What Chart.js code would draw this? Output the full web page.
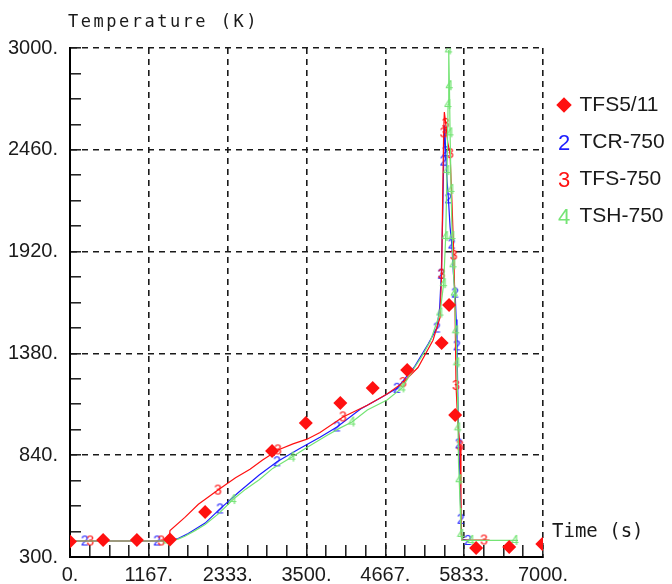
<!DOCTYPE html>
<html>
<head>
<meta charset="utf-8">
<script src="https://cdn.jsdelivr.net/npm/chart.js@4.4.1/dist/chart.umd.min.js"></script>
<style>
  html, body { margin: 0; padding: 0; background: #fff; }
</style>
</head>
<body>
<canvas id="temps" width="672" height="584"></canvas>
<script>
// TFS5/11 measurements (diamonds)
const expTime = [0, 490, 990, 1480, 2000, 2990, 3490, 4000, 4480, 4990, 5500, 5610, 5700, 6010, 6500, 6990];
const expTemp = [382, 390, 390, 393, 539, 862, 1011, 1117, 1197, 1292, 1435, 1637, 1053, 348, 353, 369];

// TCR-750
const tcrTime = [0, 220, 1290, 1480, 1600, 1750, 2000, 2220, 2500, 2800, 3064, 3400, 3700, 3951, 4300, 4600, 4840, 5100, 5300, 5431, 5470, 5495, 5515, 5530, 5545, 5560, 5580, 5600, 5625, 5650, 5675, 5700, 5715, 5727, 5740, 5755, 5770, 5785, 5800, 5890, 5930];
const tcrTemp = [385, 385, 385, 388, 398, 425, 480, 555, 645, 735, 805, 875, 935, 990, 1085, 1145, 1195, 1310, 1430, 1515, 1620, 1800, 2100, 2400, 2590, 2450, 2300, 2200, 2050, 1960, 1800, 1700, 1560, 1420, 1150, 900, 720, 500, 395, 388, 388];
const tcrMarks = [220, 1290, 2220, 3064, 3951, 4840, 5431, 5495, 5530, 5560, 5600, 5650, 5700, 5727, 5755, 5785, 5890];

// TFS-750
const tfsTime = [0, 300, 1350, 1460, 1480, 1700, 1900, 2190, 2450, 2664, 2850, 3078, 3300, 3508, 3700, 4040, 4400, 4692, 4928, 5150, 5372, 5476, 5500, 5515, 5530, 5540, 5560, 5590, 5624, 5653, 5680, 5698, 5713, 5740, 5772, 5786, 5792, 5800, 6127, 6210];
const tfsTemp = [385, 385, 385, 385, 440, 510, 580, 655, 720, 765, 815, 868, 900, 925, 960, 1043, 1105, 1165, 1225, 1305, 1450, 1570, 1800, 2200, 2550, 2660, 2600, 2500, 2440, 2180, 1900, 1620, 1210, 1000, 890, 640, 420, 390, 390, 390];
const tfsMarks = [300, 1350, 2190, 3078, 4040, 4928, 5500, 5530, 5560, 5624, 5680, 5713, 5772, 6127];

// TSH-750
const tshTime = [0, 1440, 1480, 1600, 1700, 1850, 2000, 2200, 2412, 2600, 2800, 3000, 3285, 3500, 3800, 4000, 4173, 4400, 4692, 4914, 5076, 5200, 5328, 5476, 5530, 5560, 5580, 5595, 5605, 5615, 5625, 5640, 5655, 5670, 5690, 5710, 5727, 5735, 5742, 5750, 5760, 5775, 5786, 5800, 5935, 6586, 6630];
const tshTemp = [385, 385, 385, 395, 410, 440, 472, 530, 605, 660, 710, 770, 830, 880, 945, 985, 1016, 1080, 1133, 1197, 1292, 1360, 1441, 1594, 1750, 2000, 2350, 2700, 2990, 2800, 2550, 2250, 2000, 1850, 1700, 1500, 1330, 1150, 985, 800, 710, 560, 420, 388, 388, 388, 388];
const tshMarks = [1440, 2412, 3285, 4173, 4914, 5476, 5530, 5560, 5580, 5595, 5605, 5615, 5625, 5640, 5655, 5670, 5690, 5710, 5727, 5742, 5760, 5786, 5935, 6586];

// axis ticks: labelled every 4th tick
const xLabels = ['0.', '1167.', '2333.', '3500.', '4667.', '5833.', '7000.'];
const yLabels = ['300.', '840.', '1380.', '1920.', '2460.', '3000.'];
const X_MAX = 7000, Y_MIN = 300, Y_MAX = 3000, SUB = 4;

const FONT = "'Liberation Sans', sans-serif";
const MONO = "'DejaVu Sans Mono', monospace";
const INK = '#1a1a1a';
const RED = '#ff1010', BLUE = '#1c1cff', GREEN = '#74e474';

// small canvas with a digit, used as point marker
function glyph(ch, color, size) {
  const c = document.createElement('canvas');
  c.width = Math.round(size * 0.62);
  c.height = Math.round(size * 0.9);
  const g = c.getContext('2d');
  g.font = size + 'px ' + FONT;
  g.fillStyle = color;
  g.textAlign = 'center';
  g.textBaseline = 'alphabetic';
  g.fillText(ch, c.width / 2, c.height / 2 + size * 0.355);
  return c;
}

function series(label, time, temp, marks, color, ch, order) {
  const mark = glyph(ch, color, 14);
  const isMark = c => c.dataIndex !== undefined && marks.includes(time[c.dataIndex]);
  return {
    label, order,
    data: time.map((t, i) => ({ x: t, y: temp[i] })),
    borderColor: color,
    backgroundColor: color,
    borderWidth: 1.2,
    tension: 0,
    pointStyle: c => isMark(c) ? mark : false,
    pointRadius: c => isMark(c) ? 3 : 0,
    pointBorderWidth: 0
  };
}

const legendIcons = ['rectRot', glyph('2', BLUE, 22), glyph('3', RED, 22), glyph('4', GREEN, 22)];

const datasets = [
  {
    label: 'TFS5/11', order: 0,
    data: expTime.map((t, i) => ({ x: t, y: expTemp[i] })),
    showLine: false,
    pointStyle: 'rectRot',
    pointRadius: 7,
    pointBorderWidth: 0,
    backgroundColor: RED,
    borderColor: RED,
    clip: 0
  },
  series('TCR-750', tcrTime, tcrTemp, tcrMarks, BLUE, '2', 3),
  series('TFS-750', tfsTime, tfsTemp, tfsMarks, RED, '3', 2),
  series('TSH-750', tshTime, tshTemp, tshMarks, GREEN, '4', 1)
];

const xTickValues = [];
for (let i = 0; i <= (xLabels.length - 1) * SUB; i++) xTickValues.push(i * X_MAX / ((xLabels.length - 1) * SUB));
const yTickValues = [];
for (let i = 0; i <= (yLabels.length - 1) * SUB; i++) yTickValues.push(Y_MIN + i * (Y_MAX - Y_MIN) / ((yLabels.length - 1) * SUB));

const gridLines = {
  color: c => c.index % SUB === 0 ? INK : 'rgba(0,0,0,0)',
  lineWidth: 1.6,
  drawTicks: true,
  tickColor: INK,
  tickWidth: 1.5
};

// fixed axis boxes so the plot area stays put
function fixAxis(s, size) {
  if (s.isHorizontal()) s.height = size; else s.width = size;
  s.paddingTop = s.paddingBottom = s.paddingLeft = s.paddingRight = 0;
}

// axis names sit outside the plot, not rotated
const axisNames = {
  id: 'axisNames',
  afterDraw(chart) {
    const { ctx, chartArea } = chart;
    ctx.save();
    ctx.fillStyle = INK;
    ctx.textAlign = 'left';
    ctx.textBaseline = 'alphabetic';
    ctx.font = '17px ' + MONO;
    ctx.letterSpacing = '2.5px';
    ctx.fillText('Temperature (K)', chartArea.left - 2, chartArea.top - 21);
    ctx.font = '19px ' + MONO;
    ctx.letterSpacing = '0px';
    ctx.fillText('Time (s)', chartArea.right + 9, chartArea.bottom - 20);
    ctx.restore();
  }
};

Chart.defaults.font.family = FONT;
Chart.defaults.color = INK;

new Chart(document.getElementById('temps'), {
  type: 'line',
  data: { datasets },
  plugins: [axisNames],
  options: {
    responsive: false,
    animation: false,
    events: [],
    layout: { padding: { top: 48, left: 0, right: 0, bottom: 0 } },
    plugins: {
      tooltip: { enabled: false },
      legend: {
        position: 'right',
        align: 'start',
        maxWidth: 129,
        title: { display: true, text: '', font: { size: 12, lineHeight: 1.2 }, padding: { top: 0, bottom: 16.1 } },
        labels: {
          usePointStyle: true,
          boxWidth: 10,
          boxHeight: 11,
          padding: 16,
          color: INK,
          font: { size: 21 },
          generateLabels: chart => chart.data.datasets.map((ds, i) => ({
            text: ds.label,
            fillStyle: ds.backgroundColor,
            strokeStyle: ds.borderColor,
            lineWidth: 0,
            pointStyle: legendIcons[i],
            fontColor: INK,
            hidden: false,
            datasetIndex: i
          }))
        }
      }
    },
    scales: {
      x: {
        type: 'linear',
        min: 0,
        max: X_MAX,
        afterBuildTicks: s => { s.ticks = xTickValues.map(v => ({ value: v })); },
        afterFit: s => fixAxis(s, 27),
        grid: Object.assign({}, gridLines, { tickLength: -12 }),
        border: { display: true, color: '#000', width: 2, dash: [6, 5] },
        ticks: {
          autoSkip: false,
          maxRotation: 0,
          padding: 18,
          font: { size: 20 },
          callback: (v, i) => i % SUB === 0 ? xLabels[i / SUB] : ''
        }
      },
      y: {
        type: 'linear',
        min: Y_MIN,
        max: Y_MAX,
        afterBuildTicks: s => { s.ticks = yTickValues.map(v => ({ value: v })); },
        afterFit: s => fixAxis(s, 70),
        grid: Object.assign({}, gridLines, { tickLength: -11 }),
        border: { display: true, color: '#000', width: 2, dash: [6, 5] },
        ticks: {
          autoSkip: false,
          padding: 23,
          font: { size: 20 },
          callback: (v, i) => i % SUB === 0 ? yLabels[i / SUB] : ''
        }
      }
    }
  }
});
</script>
</body>
</html>
